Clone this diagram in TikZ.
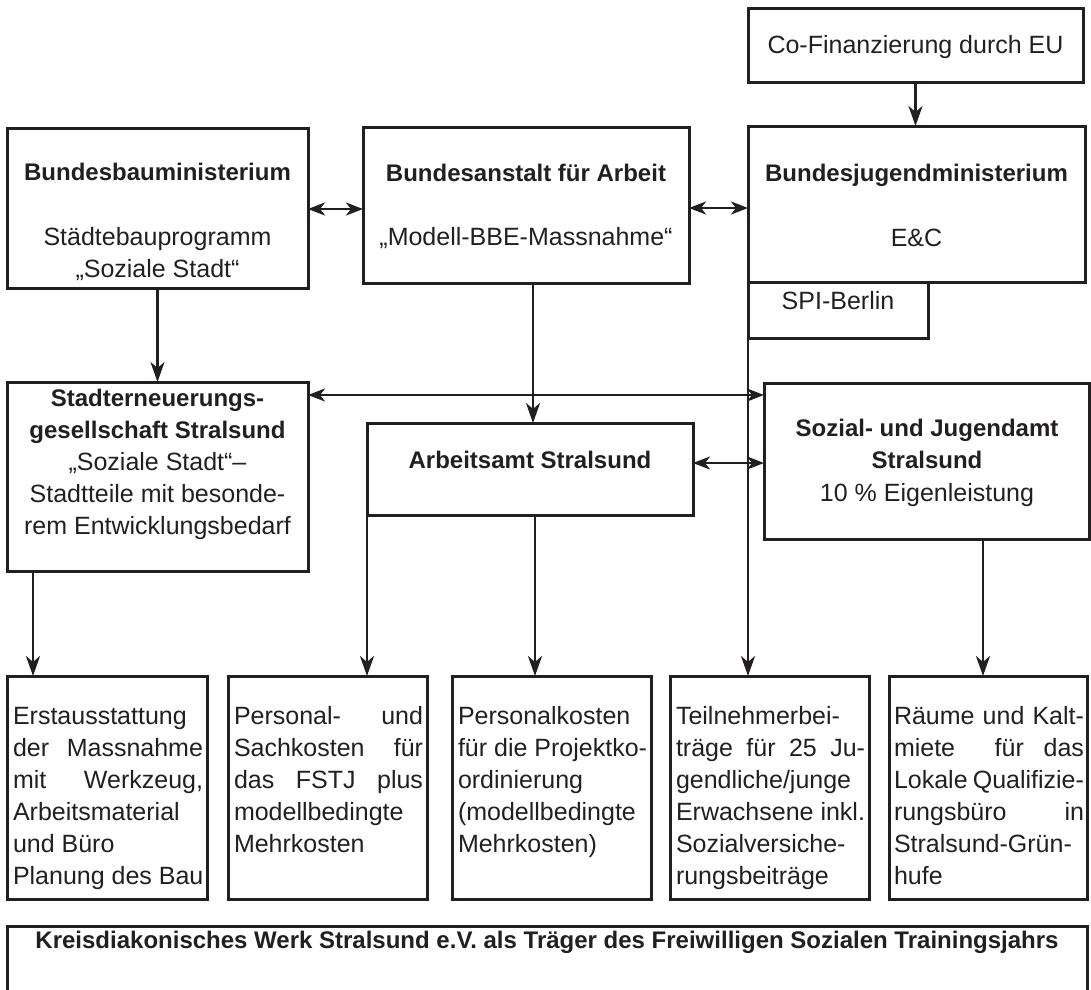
\documentclass[tikz,border=0pt]{standalone}
\usepackage{fontspec}
\setmainfont{Liberation Sans}
\usetikzlibrary{arrows.meta,calc}
\definecolor{ink}{RGB}{35,31,32}
\newcommand\fsreg{\fontsize{25pt}{32pt}\selectfont}
\newcommand\fsbf{\fontsize{24pt}{32pt}\selectfont\bfseries}
\newcommand\jl[1]{\hbox to \linewidth{#1}}
\newcommand\rl[1]{\hbox to \linewidth{#1\hss}}
\begin{document}
\begin{tikzpicture}[x=1pt,y=-1pt,
  box/.style={draw=ink, line width=3pt, inner sep=0pt, outer sep=0pt, anchor=north west},
  lbl/.style={inner sep=0pt, outer sep=0pt, anchor=base, text=ink},
  con/.style={draw=ink, line width=2.7pt, -{Stealth[length=20pt,width=14pt,inset=6pt]}},
  dbl/.style={draw=ink, line width=2.7pt, {Stealth[length=17pt,width=13pt,inset=5pt]}-{Stealth[length=17pt,width=13pt,inset=5pt]}}
]
\useasboundingbox (0,0) rectangle (1091,989);
\clip (0,0) rectangle (1091,989);

% boxes
\node[box, minimum width=335pt, minimum height=74pt]  (cofin) at (748,8) {};
\node[box, minimum width=337pt, minimum height=156pt] (bjm)   at (748,126) {};
\node[box, minimum width=180pt, minimum height=56pt]  (spi)   at (748,282) {};
\node[box, minimum width=301pt, minimum height=160pt] (bbm)   at (7,128) {};
\node[box, minimum width=326pt, minimum height=156pt] (ba)    at (363,127) {};
\node[box, minimum width=301pt, minimum height=189pt] (stadt) at (7,382) {};
\node[box, minimum width=326pt, minimum height=92pt]  (arb)   at (367,423) {};
\node[box, minimum width=325pt, minimum height=156pt] (soz)   at (764,383) {};
\node[box, minimum width=200pt, minimum height=223pt] (k1)    at (7,676) {};
\node[box, minimum width=199pt, minimum height=223pt] (k2)    at (228,676) {};
\node[box, minimum width=199pt, minimum height=223pt] (k3)    at (452,676) {};
\node[box, minimum width=199pt, minimum height=223pt] (k4)    at (670,676) {};
\node[box, minimum width=198pt, minimum height=223pt] (k5)    at (889,676) {};
\node[box, minimum width=1080pt, minimum height=120pt] (big)  at (7,926) {};

% texts
\node[lbl] (cofin-t) at (cofin.north |- 0,53) {\fsreg Co-Finanzierung durch EU};
\node[lbl] (bjm-t) at (bjm.north |- 0,181) {\fsbf Bundesjugendministerium};
\node[lbl] (bjm-s) at (bjm.north |- 0,246) {\fsreg E\&C};
\node[lbl] (spi-t) at (spi.north |- 0,309) {\fsreg SPI-Berlin};
\node[lbl] (bbm-t) at (bbm.north |- 0,180) {\fsbf Bundesbauministerium};
\node[lbl] (bbm-s) at (bbm.north |- 0,245) {\parbox[t]{300pt}{\fsreg\centering Städtebauprogramm\\„Soziale Stadt“}};
\node[lbl] (ba-t) at (ba.north |- 0,181) {\fsbf Bundesanstalt für Arbeit};
\node[lbl] (ba-s) at (ba.north |- 0,245) {\fsreg „Modell-BBE-Massnahme“};
\node[lbl] (stadt-t) at (stadt.north |- 0,406) {\parbox[t]{300pt}{\fsreg\centering
  {\fsbf Stadterneuerungs-\\gesellschaft Stralsund}\\
  „Soziale Stadt“–\\Stadtteile mit besonde-\\rem Entwicklungsbedarf}};
\node[lbl] (arb-t) at (530,468) {\fsbf Arbeitsamt Stralsund};
\node[lbl] (soz-t) at (927,436) {\parbox[t]{320pt}{\fontsize{24pt}{32.5pt}\selectfont\centering
  {\bfseries Sozial- und Jugendamt\\Stralsund}\\
  {\fsreg 10~\% Eigenleistung}}};

\node[lbl, anchor=base west] (k1-t) at ($(k1.north west)+(6,48)$) {\parbox[t]{190pt}{\fsreg
  \rl{Erstausstattung}\jl{der\hfill Massnahme}\jl{mit\hfill Werkzeug,}%
  \rl{Arbeitsmaterial}\rl{und Büro}\rl{Planung des Bau}}};
\node[lbl, anchor=base west] (k2-t) at ($(k2.north west)+(6,48)$) {\parbox[t]{189pt}{\fsreg
  \jl{Personal-\hfill und}\jl{Sachkosten\hfill für}\jl{das\hfill FSTJ\hfill plus}%
  \rl{modellbedingte}\rl{Mehrkosten}}};
\node[lbl, anchor=base west] (k3-t) at ($(k3.north west)+(6,48)$) {\parbox[t]{189pt}{\fsreg
  \rl{Personalkosten}\jl{für\hfill die\hfill Projektko-}\rl{ordinierung}%
  \rl{(modellbedingte}\rl{Mehrkosten)}}};
\node[lbl, anchor=base west] (k4-t) at ($(k4.north west)+(6,48)$) {\parbox[t]{189pt}{\fsreg
  \rl{Teilnehmerbei-}\jl{träge\hfill für\hfill 25\hfill Ju-}\rl{gendliche/junge}%
  \jl{Erwachsene\hfill inkl.}\rl{Sozialversiche-}\rl{rungsbeiträge}}};
\node[lbl, anchor=base west] (k5-t) at ($(k5.north west)+(5,48)$) {\parbox[t]{190pt}{\fsreg
  \jl{Räume\hfill und\hfill Kalt-}\jl{miete\hfill\hfill für\hfill das}\jl{Lokale\hspace{3pt}\hfill Qualifizie-}%
  \jl{rungsbüro\hfill in}\rl{Stralsund-Grün-}\rl{hufe}}};
\node[lbl] (big-t) at (big.north |- 0,948) {\fsbf Kreisdiakonisches Werk Stralsund e.V. als Träger des Freiwilligen Sozialen Trainingsjahrs};

% connectors
\draw[con] (cofin.south) -- (cofin.south |- bjm.north);
\draw[dbl] (bbm.east |- 0,209) -- (ba.west |- 0,209);
\draw[dbl] (ba.east |- 0,208) -- (bjm.west |- 0,208);
\draw[con] (ba.south -| 533,0) -- (arb.north -| 533,0);
\draw[con] (bbm.south) -- (stadt.north);
\draw[dbl] (stadt.east |- 0,395) -- (soz.west |- 0,395);
\draw[dbl] (arb.east |- 0,463) -- (soz.west |- 0,463);
\draw[con] (stadt.south -| 33,0) -- (k1.north -| 33,0);
\draw[con] (arb.south west) -- (arb.south west |- k2.north);
\draw[con] (arb.south -| 535,0) -- (k3.north -| 535,0);
\draw[con] (spi.south west) -- (spi.south west |- k4.north);
\draw[con] (soz.south -| 983,0) -- (k5.north -| 983,0);
\end{tikzpicture}
\end{document}
